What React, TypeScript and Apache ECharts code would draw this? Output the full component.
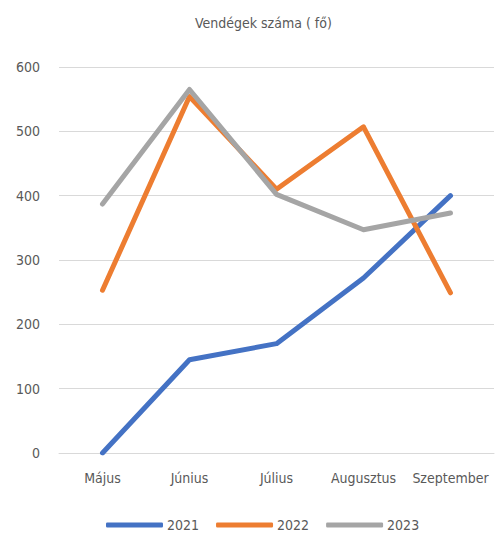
import React, { useEffect, useRef } from "react";
import * as echarts from "echarts";

const categories = ["Május", "Június", "Július", "Augusztus", "Szeptember"];
const s2021 = [0, 145, 170, 272, 400];
const s2022 = [253, 554, 410, 507, 249];
const s2023 = [387, 565, 402, 347, 373];
const yTicks = { min: 0, max: 600, interval: 100 };

const FONT = "'DejaVu Sans Condensed', 'Liberation Sans Narrow', sans-serif";

export default function App() {
  const ref = useRef<HTMLDivElement>(null);
  useEffect(() => {
    if (!ref.current) return;
    const chart = echarts.init(ref.current, undefined, { renderer: "svg" });
    const mk = (name: string, data: number[], color: string) => ({
      name,
      type: "line",
      data,
      symbol: "none",
      lineStyle: { color, width: 5, cap: "round", join: "round" },
      itemStyle: { color },
    });
    chart.setOption({
      animation: false,
      textStyle: { fontFamily: FONT },
      title: {
        text: "Vendégek száma ( fő)",
        left: 190,
        top: 11,
        textStyle: { fontFamily: FONT, fontSize: 14, fontWeight: "normal", color: "#595959" },
      },
      grid: { left: 59, right: 1, top: 67, bottom: 85, containLabel: false },
      xAxis: {
        type: "category",
        data: categories,
        boundaryGap: true,
        axisLine: { show: true, lineStyle: { color: "#D9D9D9", width: 1 } },
        axisTick: { show: false },
        axisLabel: { color: "#595959", fontFamily: FONT, fontSize: 14, margin: 18, interval: 0 },
      },
      yAxis: {
        type: "value",
        min: yTicks.min,
        max: yTicks.max,
        interval: yTicks.interval,
        axisLine: { show: false },
        axisTick: { show: false },
        axisLabel: { color: "#595959", fontFamily: FONT, fontSize: 14, margin: 19 },
        splitLine: { lineStyle: { color: "#D9D9D9", width: 1 } },
      },
      legend: {
        top: 513,
        left: 101,
        icon: "roundRect",
        itemWidth: 57,
        itemHeight: 5,
        itemGap: 17,
        textStyle: { color: "#595959", fontFamily: FONT, fontSize: 14, padding: [0, 0, 0, -1] },
        data: ["2021", "2022", "2023"],
      },
      series: [
        mk("2021", s2021, "#4472C4"),
        mk("2022", s2022, "#ED7D31"),
        mk("2023", s2023, "#A5A5A5"),
      ],
    });
    return () => chart.dispose();
  }, []);
  return (
    <div
      ref={ref}
      style={{ position: "fixed", left: 0, top: 0, width: 495, height: 538, background: "#fff" }}
    />
  );
}
